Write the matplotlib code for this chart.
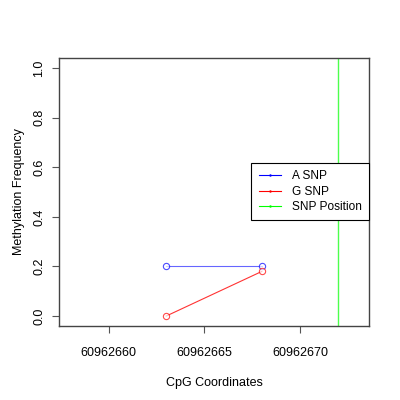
import matplotlib
matplotlib.use("Agg")
import matplotlib.pyplot as plt
from matplotlib.lines import Line2D

coords = [60962663, 60962668]
a_snp = [0.2, 0.2]
g_snp = [0.0, 0.18]
snp_pos = 60962672
xticks = [60962660, 60962665, 60962670]
yticks = [0.0, 0.2, 0.4, 0.6, 0.8, 1.0]

plt.rcParams['font.family'] = ['Liberation Sans', 'DejaVu Sans']
plt.rcParams['font.size'] = 9

fig = plt.figure(figsize=(4, 4), dpi=100)
ax = fig.add_axes([0.1475, 0.185, 0.775, 0.67])

ax.plot(coords, a_snp, color='#0000ff', lw=0.8, alpha=0.6, zorder=2)
ax.plot(coords, g_snp, color='#ff0000', lw=0.8, alpha=0.8, zorder=2)
ax.plot(coords, a_snp, 'o', ms=4.5, mfc='white', mec='#0000ff', mew=0.8, alpha=0.7, zorder=3)
ax.plot(coords, g_snp, 'o', ms=4.5, mfc='white', mec='#ff0000', mew=0.8, alpha=0.7, zorder=3)
ax.axvline(snp_pos, color='#00ff00', lw=1.0, alpha=0.7)

ax.set_xlim(60962657.4, 60962673.6)
ax.set_ylim(-0.04, 1.04)
ax.set_xticks(xticks)
ax.set_xticklabels([str(v) for v in xticks])
ax.set_yticks(yticks)
ax.set_yticklabels([f"{v:.1f}" for v in yticks], rotation=90, va='center')
ax.tick_params(direction='out', length=5, width=0.8, color='#555555', pad=5)
ax.tick_params(axis='x', pad=10)
for s in ax.spines.values():
    s.set_color('#444444')
    s.set_linewidth(1.0)

ax.set_xlabel('CpG Coordinates', labelpad=13)
ax.set_ylabel('Methylation Frequency', labelpad=6)

handles = [Line2D([], [], color='#0000ff', lw=0.8, marker='.', ms=1.5),
           Line2D([], [], color='#ff0000', lw=0.8, marker='.', ms=1.5),
           Line2D([], [], color='#00ff00', lw=0.8, marker='.', ms=1.5)]
leg = ax.legend(handles, ['A SNP', 'G SNP', 'SNP Position'],
                loc='upper right', bbox_to_anchor=(1.0, 0.607),
                fancybox=False, framealpha=1, edgecolor='black',
                borderaxespad=0, handlelength=1.9, handletextpad=0.9,
                labelspacing=0.28, borderpad=0.6, fontsize=8.6)
leg.get_frame().set_linewidth(0.8)

fig.savefig('out.png', dpi=100)
